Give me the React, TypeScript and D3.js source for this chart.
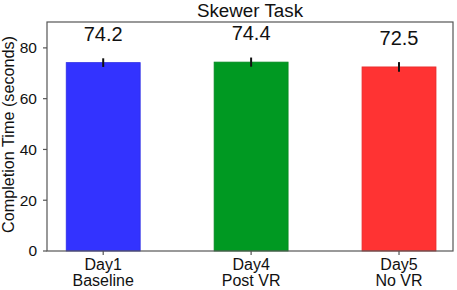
import React from "react";
import * as d3 from "d3";

const categories = ["Day1\nBaseline", "Day4\nPost VR", "Day5\nNo VR"];
const values = [74.2, 74.4, 72.5];
const errors = [1.7, 1.8, 1.9];
const colors = ["#3333ff", "#009922", "#ff3333"];
const yTicks = [0, 20, 40, 60, 80];
const title = "Skewer Task";
const yLabel = "Completion Time (seconds)";

const W = 457;
const H = 290;
const m = { left: 47, right: 4, top: 22, bottom: 39 };

export default function App() {
  const x = d3.scaleLinear().domain([-0.38, 2.365]).range([m.left, W - m.right]);
  const y = d3.scaleLinear().domain([0, 90.2]).range([H - m.bottom, m.top]);
  const bw = x(0.25) - x(-0.25);
  const font = "'Liberation Sans', Arial, sans-serif";
  return (
    <svg width={W} height={H} style={{ position: "absolute", left: 0, top: 0, background: "#fff" }} fontFamily={font}>
      <text x={250} y={17} textAnchor="middle" fontSize={18.8} fill="#111">{title}</text>
      {values.map((v, i) => (
        <g key={i}>
          <rect x={x(i) - bw / 2} y={y(v)} width={bw} height={y(0) - y(v)} fill={colors[i]} stroke={d3.color(colors[i])!.darker(0.3).toString()} strokeWidth={0.8} />
          <line x1={x(i)} x2={x(i)} y1={y(v - errors[i])} y2={y(v + errors[i])} stroke="#111" strokeWidth={2} />
          <text x={x(i)} y={y(v + 8.6)} textAnchor="middle" fontSize={20} fill="#111">{v.toFixed(1)}</text>
        </g>
      ))}
      <rect x={m.left} y={m.top} width={W - m.right - m.left} height={H - m.bottom - m.top} fill="none" stroke="#555" strokeWidth={1.2} />
      {yTicks.map((t) => (
        <g key={t}>
          <line x1={m.left - 4} x2={m.left} y1={y(t)} y2={y(t)} stroke="#555" strokeWidth={1.2} />
          <text x={m.left - 10} y={y(t)} dy="0.35em" textAnchor="end" fontSize={15.5} fill="#111">{t}</text>
        </g>
      ))}
      {categories.map((c, i) => (
        <g key={i}>
          <line x1={x(i)} x2={x(i)} y1={H - m.bottom} y2={H - m.bottom + 4} stroke="#555" strokeWidth={1.2} />
          {c.split("\n").map((ln, j) => (
            <text key={j} x={x(i)} y={270 + j * 16} textAnchor="middle" fontSize={16} fill="#111">{ln}</text>
          ))}
        </g>
      ))}
      <text transform={`translate(14,${(m.top + H - m.bottom) / 2 - 2}) rotate(-90)`} textAnchor="middle" fontSize={16.2} fill="#111">{yLabel}</text>
    </svg>
  );
}
